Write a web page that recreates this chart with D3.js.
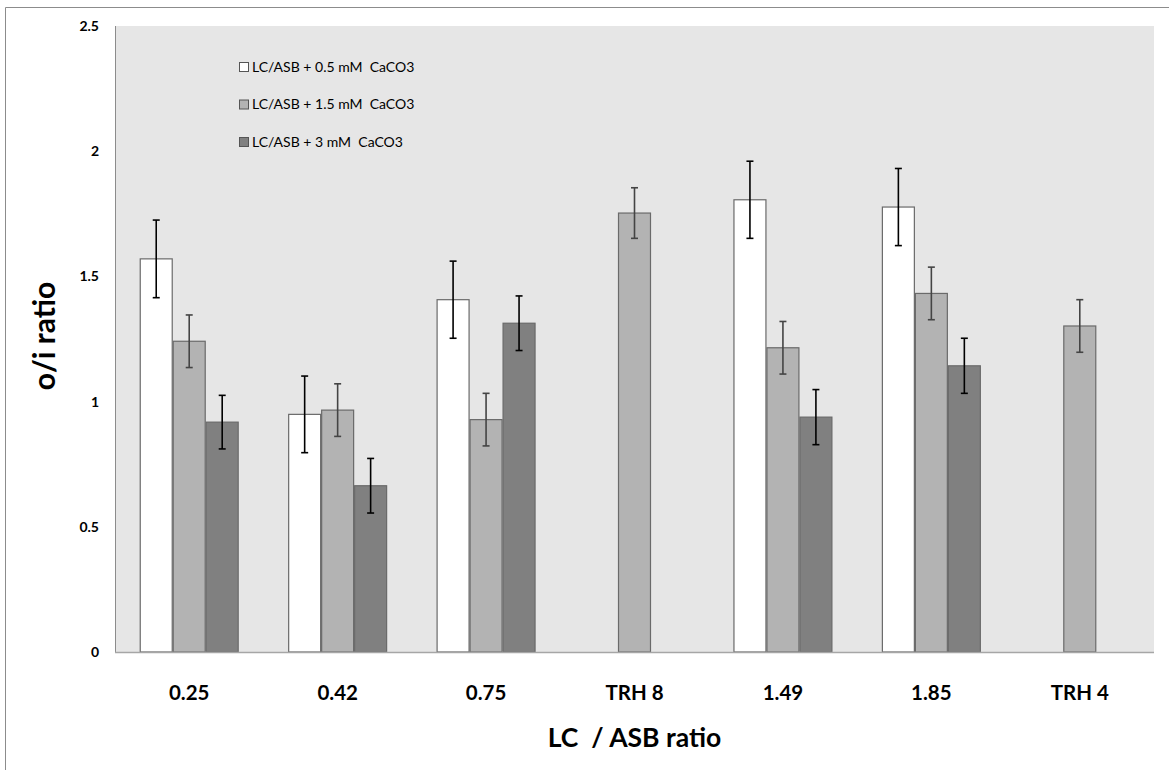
<!DOCTYPE html>
<html>
<head>
<meta charset="utf-8">
<script src="https://cdn.jsdelivr.net/npm/d3@7"></script>
<style>
  html, body { margin: 0; padding: 0; background: #fff; }
  svg { display: block; font-family: Lato, "Open Sans", sans-serif; }
</style>
</head>
<body>
<svg id="chart" width="1169" height="770"></svg>
<script>
const categories = ["0.25", "0.42", "0.75", "TRH 8", "1.49", "1.85", "TRH 4"];
const seriesNames = ["LC/ASB + 0.5 mM  CaCO3", "LC/ASB + 1.5 mM  CaCO3", "LC/ASB + 3 mM  CaCO3"];
const values05 = [1.57, 0.949, 1.407, null, 1.806, 1.777, null];
const values15 = [1.241, 0.966, 0.928, 1.753, 1.215, 1.432, 1.302];
const values3  = [0.918, 0.664, 1.313, null, 0.938, 1.143, null];
const errors05 = [0.155, 0.153, 0.154, null, 0.154, 0.154, null];
const errors15 = [0.105, 0.105, 0.105, 0.101, 0.105, 0.105, 0.105];
const errors3  = [0.107, 0.109, 0.109, null, 0.11, 0.11, null];
const yTicks = [0, 0.5, 1, 1.5, 2, 2.5];
const yTickLabels = ["0", "0.5", "1", "1.5", "2", "2.5"];

const fills = ["#ffffff", "#b3b3b3", "#808080"];
const errColors = ["#000000", "#444444", "#000000"];

const svg = d3.select("#chart");
const plot = {left: 115, right: 1154, top: 26, bottom: 652};

// outer chart border (top and left visible)
svg.append("path")
  .attr("d", `M5.5,770 L5.5,7.5 L1169,7.5`)
  .attr("fill", "none").attr("stroke", "#8c8c8c").attr("stroke-width", 1);

// plot area
svg.append("rect")
  .attr("x", plot.left).attr("y", plot.top)
  .attr("width", plot.right - plot.left).attr("height", plot.bottom - plot.top)
  .attr("fill", "#e6e6e6");

const x0 = d3.scaleBand().domain(categories).range([plot.left, plot.right])
  .paddingInner(1/3).paddingOuter(1/6);
const x1 = d3.scaleBand().domain([0, 1, 2]).range([0, x0.bandwidth()]);
const y = d3.scaleLinear().domain([0, 2.5]).range([plot.bottom, plot.top]);

const series = [values05, values15, values3];
const errs = [errors05, errors15, errors3];

const rows = [];
categories.forEach((c, i) => {
  series.forEach((s, k) => {
    if (s[i] != null) rows.push({cat: c, k, v: s[i], e: errs[k][i]});
  });
});

const g = svg.append("g");
g.selectAll("rect.bar").data(rows).join("rect")
  .attr("class", "bar")
  .attr("x", d => x0(d.cat) + x1(d.k) + 0.5)
  .attr("y", d => y(d.v))
  .attr("width", x1.bandwidth() - 1)
  .attr("height", d => y(0) - y(d.v))
  .attr("fill", d => fills[d.k])
  .attr("stroke", "#6a6a6a").attr("stroke-width", 1.2);

// error bars
const cap = 3.5;
const eg = g.selectAll("g.err").data(rows).join("g").attr("class", "err")
  .attr("stroke", d => errColors[d.k]).attr("stroke-width", 1.6);
eg.append("line")
  .attr("x1", d => x0(d.cat) + x1(d.k) + x1.bandwidth() / 2)
  .attr("x2", d => x0(d.cat) + x1(d.k) + x1.bandwidth() / 2)
  .attr("y1", d => y(d.v + d.e)).attr("y2", d => y(d.v - d.e));
eg.append("line")
  .attr("x1", d => x0(d.cat) + x1(d.k) + x1.bandwidth() / 2 - cap)
  .attr("x2", d => x0(d.cat) + x1(d.k) + x1.bandwidth() / 2 + cap)
  .attr("y1", d => y(d.v + d.e)).attr("y2", d => y(d.v + d.e));
eg.append("line")
  .attr("x1", d => x0(d.cat) + x1(d.k) + x1.bandwidth() / 2 - cap)
  .attr("x2", d => x0(d.cat) + x1(d.k) + x1.bandwidth() / 2 + cap)
  .attr("y1", d => y(d.v - d.e)).attr("y2", d => y(d.v - d.e));

// axes lines
svg.append("line").attr("x1", plot.left + 0.5).attr("x2", plot.left + 0.5)
  .attr("y1", plot.top).attr("y2", plot.bottom)
  .attr("stroke", "#8c8c8c").attr("stroke-width", 1);
svg.append("line").attr("x1", plot.left).attr("x2", plot.right)
  .attr("y1", plot.bottom + 0.5).attr("y2", plot.bottom + 0.5)
  .attr("stroke", "#a6a6a6").attr("stroke-width", 1.5);

// y axis labels via d3 axis
const yAxis = d3.axisLeft(y).tickValues(yTicks)
  .tickFormat((d, i) => yTickLabels[i]).tickSize(0).tickPadding(0);
const ya = svg.append("g").attr("transform", `translate(99,0)`).call(yAxis);
ya.select(".domain").remove();
ya.selectAll("text").attr("font-family", "Lato, 'Open Sans', sans-serif")
  .attr("font-size", 14).attr("font-weight", "bold").attr("fill", "#000");

// x axis labels
const xAxis = d3.axisBottom(x0).tickSize(0).tickPadding(0);
const xa = svg.append("g").attr("transform", `translate(0,685)`).call(xAxis);
xa.select(".domain").remove();
xa.selectAll("text").attr("font-family", "Lato, 'Open Sans', sans-serif")
  .attr("font-size", 20.5).attr("font-weight", "bold").attr("fill", "#000");

// axis titles
svg.append("text").attr("x", (plot.left + plot.right) / 2).attr("y", 747)
  .attr("text-anchor", "middle").attr("font-size", 26.5).attr("font-weight", "bold")
  .style("white-space", "pre")
  .text("LC  / ASB ratio");
svg.append("text").attr("transform", `translate(55,${(plot.top + plot.bottom) / 2 - 3}) rotate(-90)`)
  .attr("text-anchor", "middle").attr("font-size", 30).attr("font-weight", "bold")
  .text("o/i ratio");

// legend
const lg = svg.append("g");
const legendY = [67, 104.5, 142];
seriesNames.forEach((name, k) => {
  lg.append("rect").attr("x", 239.5).attr("y", legendY[k] - 4.5)
    .attr("width", 9).attr("height", 9)
    .attr("fill", fills[k]).attr("stroke", "#555").attr("stroke-width", 1);
  lg.append("text").attr("x", 252).attr("y", legendY[k]).attr("dy", "0.35em")
    .attr("font-size", 14).attr("fill", "#000")
    .style("white-space", "pre").text(name);
});
</script>
</body>
</html>
